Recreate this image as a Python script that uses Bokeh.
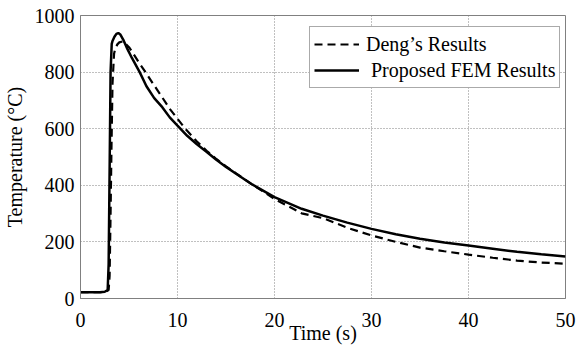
from bokeh.plotting import figure
from bokeh.models import Range1d, FixedTicker, Legend, LegendItem
from bokeh.embed import file_html
from bokeh.resources import INLINE

# Deng's results (dashed)
deng_t = [0, 2.0, 2.6, 2.9, 3.0, 3.1, 3.2, 3.3, 3.46, 3.6, 3.8, 4.0, 4.38, 4.7, 5.0, 5.5, 6.0, 6.7,
          7.5, 8.4, 9.2, 10.0, 10.8, 12.0, 13.0, 14.0, 15.0, 16.0, 17.7, 20.0, 22.8, 25.0, 27.5,
          30.0, 32.5, 35.0, 37.5, 40.0, 42.5, 45.0, 47.5, 50.0]
deng_T = [22, 22, 24, 30, 80, 300, 550, 760, 865, 885, 898, 905, 909, 898, 888, 862, 835, 800,
          758, 712, 670, 635, 600, 555, 522, 493, 467, 443, 403, 352, 301, 284, 250,
          223, 200, 180, 167, 155, 144, 134, 127, 123]

# Proposed FEM results (solid)
fem_t = [0, 2.0, 2.5, 2.8, 2.9, 3.0, 3.1, 3.22, 3.3, 3.5, 3.7, 3.9, 4.1, 4.4, 4.83, 5.3, 6.1, 6.8,
         7.6, 8.43, 9.2, 10.0, 11.0, 12.0, 13.05, 14.0, 15.0, 16.0, 17.7, 20.0, 22.8, 25.0, 27.5,
         30.0, 32.5, 35.0, 37.5, 40.0, 42.5, 45.0, 47.5, 50.0]
fem_T = [22, 22, 24, 30, 120, 450, 800, 900, 910, 925, 935, 938, 933, 915, 882, 850, 800, 750,
         708, 676, 640, 611, 575, 545, 517, 490, 465, 442, 403, 358, 317, 293, 268,
         246, 227, 211, 198, 187, 176, 165, 156, 148]

x_ticks = [0, 10, 20, 30, 40, 50]
y_ticks = [0, 200, 400, 600, 800, 1000]

FONT = "'Liberation Serif', 'Times New Roman', serif"
TICK_FONT = '"Liberation Serif"'
GRAY = "#808080"

p = figure(width=576, height=351, x_range=Range1d(0, 50), y_range=Range1d(0, 1000),
           output_backend="svg", toolbar_location=None,
           min_border_left=78, min_border_right=11, min_border_top=15, min_border_bottom=53)

p.outline_line_color = GRAY
p.outline_line_width = 1
p.background_fill_color = "white"
p.border_fill_color = "white"

for ax in (p.xaxis[0], p.yaxis[0]):
    ax.axis_line_color = GRAY
    ax.major_tick_in = 0
    ax.major_tick_out = 0
    ax.minor_tick_line_color = None
    ax.major_label_text_font = TICK_FONT
    ax.major_label_text_font_size = "20px"
    ax.major_label_text_color = "black"
    ax.axis_label_text_font = FONT
    ax.axis_label_text_font_size = "20px"
    ax.axis_label_text_font_style = "normal"
    ax.axis_label_text_color = "black"

p.xaxis.ticker = FixedTicker(ticks=x_ticks)
p.yaxis.ticker = FixedTicker(ticks=y_ticks)
p.xaxis.axis_label = "Time (s)"
p.yaxis.axis_label = "Temperature (°C)"
p.xaxis.major_label_standoff = 14
p.xaxis.axis_label_standoff = -8
p.yaxis.major_label_standoff = 6
p.yaxis.axis_label_standoff = 6

p.grid.grid_line_color = GRAY
p.grid.grid_line_dash = "1 2"
p.grid.grid_line_width = 1

r_deng = p.line(deng_t, deng_T, line_color="black", line_width=2.2, line_dash="8 5")
r_fem = p.line(fem_t, fem_T, line_color="black", line_width=2.5)

legend = Legend(items=[LegendItem(label="Deng\u2019s Results", renderers=[r_deng]),
                       LegendItem(label=" Proposed FEM Results", renderers=[r_fem])],
                location=(229, 210))
legend.label_text_font = FONT
legend.label_text_font_size = "20px"
legend.label_text_color = "black"
legend.glyph_width = 45
legend.glyph_height = 26
legend.label_height = 26
legend.label_standoff = 7
legend.padding = 4
legend.spacing = 0
legend.margin = 0
legend.border_line_color = "#555555"
legend.border_line_width = 1
legend.background_fill_alpha = 1.0
p.add_layout(legend, "center")

open("out.html", "w").write(file_html(p, INLINE))
